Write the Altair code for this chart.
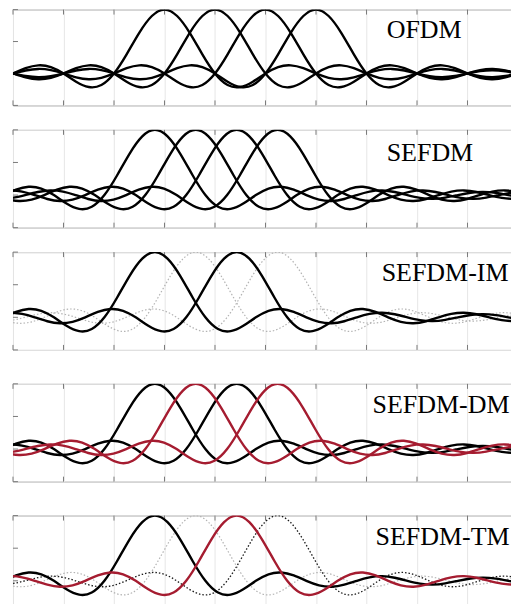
import altair as alt
import pandas as pd

# grid / tick positions
x_ticks = list(range(0, 11))
y_ticks = [-0.5, 0, 0.5, 1]

# spectrum of one subcarrier, read at quarter-unit steps from its peak outward
half_profile = [1.0, 0.90, 0.637, 0.30, 0.0, -0.18, -0.212, -0.129,
                0.0, 0.10, 0.127, 0.082, 0.0, -0.069, -0.091, -0.060,
                0.0, 0.053, 0.071, 0.047, 0.0, -0.043, -0.058, -0.039,
                0.0, 0.036, 0.049, 0.033, 0.0, -0.031, -0.042]
profile_step = 0.25

panel_labels = ["OFDM", "SEFDM", "SEFDM-IM", "SEFDM-DM", "SEFDM-TM"]
ofdm_centers = [3, 4, 5, 6]
sefdm_centers = [2.81, 3.62, 4.43, 5.24]
panel_centers = [ofdm_centers, sefdm_centers, sefdm_centers, sefdm_centers, sefdm_centers]
panel_styles = [
    ["black", "black", "black", "black"],
    ["black", "black", "black", "black"],
    ["black", "light", "black", "light"],
    ["black", "red", "black", "red"],
    ["black", "light", "red", "dark"],
]
label_x = [7.4, 7.4, 7.3, 7.12, 7.18]
label_y = [0.56, 0.53, 0.55, 0.56, 0.55]
panel_heights = [96, 98, 98, 98, 98]
PLOT_W = 506

style_props = {
    "light": dict(color="#b3b3b3", strokeWidth=1.2, strokeDash=[1.5, 2]),
    "dark": dict(color="#1a1a1a", strokeWidth=1.3, strokeDash=[1.5, 2]),
    "black": dict(color="#000000", strokeWidth=2.4),
    "red": dict(color="#a51c30", strokeWidth=2.4),
}
style_order = ["light", "dark", "black", "red"]

offsets = [-profile_step * i for i in range(len(half_profile) - 1, 0, -1)] + \
          [profile_step * i for i in range(len(half_profile))]
values = half_profile[:0:-1] + half_profile

xscale = alt.Scale(domain=[0, 10], nice=False, zero=False)
yscale = alt.Scale(domain=[-0.5, 1], nice=False, zero=False)
xaxis = alt.Axis(values=x_ticks, labels=False, ticks=False, domain=False, title=None,
                 grid=True, gridColor="#e6e6e6")
yaxis = alt.Axis(values=y_ticks, labels=False, ticks=False, domain=False, title=None,
                 grid=True, gridColor="#e6e6e6")

xt_df = pd.DataFrame({"t": x_ticks})
yt_df = pd.DataFrame({"t": y_ticks})
TICK_COLOR = "#7a7a7a"
TICK_LEN = 5


def tick_layers(h):
    xs = alt.X("t:Q", scale=xscale, axis=xaxis)
    ys = alt.Y("t:Q", scale=yscale, axis=yaxis)
    return [
        alt.Chart(xt_df).mark_rule(color=TICK_COLOR, strokeWidth=1).encode(
            x=xs, y=alt.value(0), y2=alt.value(TICK_LEN)),
        alt.Chart(xt_df).mark_rule(color=TICK_COLOR, strokeWidth=1).encode(
            x=xs, y=alt.value(h), y2=alt.value(h - TICK_LEN)),
        alt.Chart(yt_df).mark_rule(color=TICK_COLOR, strokeWidth=1).encode(
            y=ys, x=alt.value(0), x2=alt.value(TICK_LEN)),
        alt.Chart(yt_df).mark_rule(color=TICK_COLOR, strokeWidth=1).encode(
            y=ys, x=alt.value(PLOT_W), x2=alt.value(PLOT_W - TICK_LEN)),
    ]


def make_panel(i):
    rows = []
    for k, (c, s) in enumerate(zip(panel_centers[i], panel_styles[i])):
        for o, v in zip(offsets, values):
            rows.append({"x": c + o, "y": v, "sc": k, "style": s})
    df = pd.DataFrame(rows)
    layers = tick_layers(panel_heights[i])
    for s in style_order:
        sub = df[df["style"] == s]
        if sub.empty:
            continue
        props = style_props[s]
        layers.append(
            alt.Chart(sub).mark_line(interpolate="natural", clip=True, **props).encode(
                x=alt.X("x:Q", scale=xscale, axis=xaxis),
                y=alt.Y("y:Q", scale=yscale, axis=yaxis),
                detail="sc:N",
            )
        )
    text = alt.Chart(pd.DataFrame({"label": [panel_labels[i]]})).mark_text(
        font="Liberation Serif", fontSize=26, align="left", baseline="alphabetic",
        color="#000000"
    ).encode(
        x=alt.datum(label_x[i], scale=xscale),
        y=alt.datum(label_y[i], scale=yscale),
        text="label:N",
    )
    layers.append(text)
    return alt.layer(*layers).properties(width=PLOT_W, height=panel_heights[i])


top = alt.vconcat(make_panel(0), make_panel(1), make_panel(2), spacing=22.5)
bottom = alt.vconcat(make_panel(3), make_panel(4), spacing=32)
chart = alt.vconcat(top, bottom, spacing=32).properties(
    padding={"left": 4, "top": 0, "right": -8, "bottom": 0},
    background="white",
).configure_view(stroke="#8f8f8f", strokeWidth=1)

chart.save("out.html", embed_options={"renderer": "svg", "actions": False})
